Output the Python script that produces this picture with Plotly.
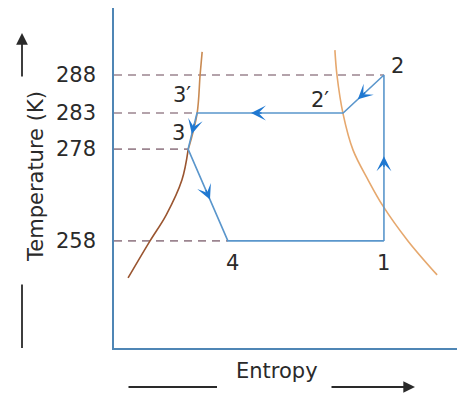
import numpy as np
import plotly.graph_objects as go

# ---------------- data ----------------
# temperature levels (tick labels) and their heights on the schematic T-axis
temp_labels = ["288", "283", "278", "258"]
temp_values = [288, 283, 278, 258]
temp_heights = [8.03, 6.91, 5.85, 3.15]   # schematic (not-to-scale) axis

# cycle states: name, entropy (arbitrary units), temperature (K)
state_names = ["1", "2", "2′", "3′", "3", "4"]
state_s = [7.87, 7.87, 6.68, 2.42, 2.16, 3.32]
state_T = [258, 288, 283, 283, 278, 258]

# saturated-liquid curve (entropy, schematic height)
liq_s_upper = [2.57, 2.51, 2.42, 2.16]
liq_h_upper = [8.71, 8.03, 6.88, 5.82]
liq_s_lower = [2.16, 1.98, 1.52, 1.05, 0.41]
liq_h_lower = [5.82, 4.94, 3.91, 3.15, 2.06]

# saturated-vapour curve (entropy, schematic height)
vap_s = [6.44, 6.50, 6.68, 6.97, 7.41, 7.84, 8.57, 9.42]
vap_h = [8.76, 8.03, 6.88, 5.82, 4.94, 4.18, 3.15, 2.15]

# cycle path order and arrow fraction on each segment
path_order = ["1", "2", "2′", "3′", "3", "4", "1"]
arrow_frac = [0.51, 0.64, 0.63, 0.58, 0.55, None]

# dashed guide lines: (state, level)
guides = ["2", "3′", "3", "4"]

# ---------------- helpers ----------------
def T_to_h(T):
    order = np.argsort(temp_values)
    return float(np.interp(T, np.array(temp_values)[order], np.array(temp_heights)[order]))

pos = {n: (s, T_to_h(T)) for n, s, T in zip(state_names, state_s, state_T)}

FONT = "DejaVu Sans"
LINE_BLUE = "#5a96cc"
ARROW_BLUE = "#1f78d1"
AXIS_BLUE = "#4f86b5"
DASH_COL = "#9c8590"
TXT = "#2a2a2a"

fig = go.Figure()

# dashed guides
for n in guides:
    s, h = pos[n]
    fig.add_trace(go.Scatter(x=[0, s], y=[h, h], mode="lines",
                             line=dict(color=DASH_COL, width=1.6, dash="8px,6px"),
                             hoverinfo="skip", showlegend=False))

# saturation curves
fig.add_trace(go.Scatter(x=liq_s_upper, y=liq_h_upper, mode="lines",
                         line=dict(color="#c98a52", width=1.6, shape="spline"),
                         hoverinfo="skip", showlegend=False))
fig.add_trace(go.Scatter(x=liq_s_lower, y=liq_h_lower, mode="lines",
                         line=dict(color="#9a5530", width=1.6, shape="spline"),
                         hoverinfo="skip", showlegend=False))
fig.add_trace(go.Scatter(x=vap_s, y=vap_h, mode="lines",
                         line=dict(color="#e6a86e", width=1.6, shape="spline"),
                         hoverinfo="skip", showlegend=False))

# cycle
fig.add_trace(go.Scatter(x=[pos[n][0] for n in path_order],
                         y=[pos[n][1] for n in path_order], mode="lines",
                         line=dict(color=LINE_BLUE, width=1.6),
                         hoverinfo="skip", showlegend=False))

annotations = []
# arrows along the cycle
for i, f in enumerate(arrow_frac):
    if f is None:
        continue
    x0, y0 = pos[path_order[i]]
    x1, y1 = pos[path_order[i + 1]]
    tx, ty = x0 + f * (x1 - x0), y0 + f * (y1 - y0)
    d = np.hypot(x1 - x0, y1 - y0)
    bx, by = tx - 0.35 * (x1 - x0) / d, ty - 0.35 * (y1 - y0) / d
    annotations.append(dict(x=tx, y=ty, ax=bx, ay=by, xref="x", yref="y",
                            axref="x", ayref="y", text="", showarrow=True,
                            arrowhead=3, arrowsize=1.55, arrowwidth=1.6,
                            arrowcolor=ARROW_BLUE, standoff=0))

# state labels
label_shift = {"1": (0, -22), "2": (14, 9), "2′": (-23, 13),
               "3′": (-15, 18), "3": (-10, 16), "4": (5, -22)}
for n in state_names:
    s, h = pos[n]
    dx, dy = label_shift[n]
    annotations.append(dict(x=s, y=h, xref="x", yref="y", text=n, showarrow=False,
                            xshift=dx, yshift=dy,
                            font=dict(family=FONT, size=21, color=TXT)))

# axis titles with arrows (paper coords)
def px(xp):
    return (xp - 114) / 343

def py(yp):
    return (348 - yp) / 340

annotations += [
    dict(x=px(277), y=py(385), xref="paper", yref="paper", text="Entropy",
         showarrow=False, font=dict(family=FONT, size=21, color=TXT)),
    dict(x=px(217), y=py(387), xref="paper", yref="paper", text="", showarrow=True,
         ax=-90, ay=0, arrowhead=0, arrowwidth=1.8, arrowcolor=TXT),
    dict(x=px(415), y=py(387), xref="paper", yref="paper", text="", showarrow=True,
         ax=-85, ay=0, arrowhead=2, arrowsize=1.3, arrowwidth=1.8, arrowcolor=TXT),
    dict(x=px(22), y=py(177), xref="paper", yref="paper", text="Temperature (K)",
         showarrow=False, textangle=-90, font=dict(family=FONT, size=21, color=TXT)),
    dict(x=px(22), y=py(33), xref="paper", yref="paper", text="", showarrow=True,
         ax=0, ay=45, arrowhead=2, arrowsize=1.3, arrowwidth=1.8, arrowcolor=TXT),
    dict(x=px(22), y=py(348), xref="paper", yref="paper", text="", showarrow=True,
         ax=0, ay=-65, arrowhead=0, arrowwidth=1.8, arrowcolor=TXT),
]

fig.update_layout(
    width=457, height=404,
    margin=dict(l=114, r=0, t=8, b=56),
    paper_bgcolor="white", plot_bgcolor="white",
    showlegend=False,
    annotations=annotations,
    xaxis=dict(range=[0, 10], showgrid=False, zeroline=False, showticklabels=False,
               ticks="", showline=True, linecolor=AXIS_BLUE, linewidth=1.6,
               fixedrange=True),
    yaxis=dict(range=[0, 10], showgrid=False, zeroline=False,
               tickvals=temp_heights, ticktext=temp_labels, ticks="",
               ticklabelstandoff=12,
               tickfont=dict(family=FONT, size=21, color=TXT),
               showline=True, linecolor=AXIS_BLUE, linewidth=1.6,
               fixedrange=True),
)

fig.write_html("out.html", config={"displayModeBar": False},
               post_script="document.body.style.margin='0';"
                           "document.body.style.overflow='hidden';")
